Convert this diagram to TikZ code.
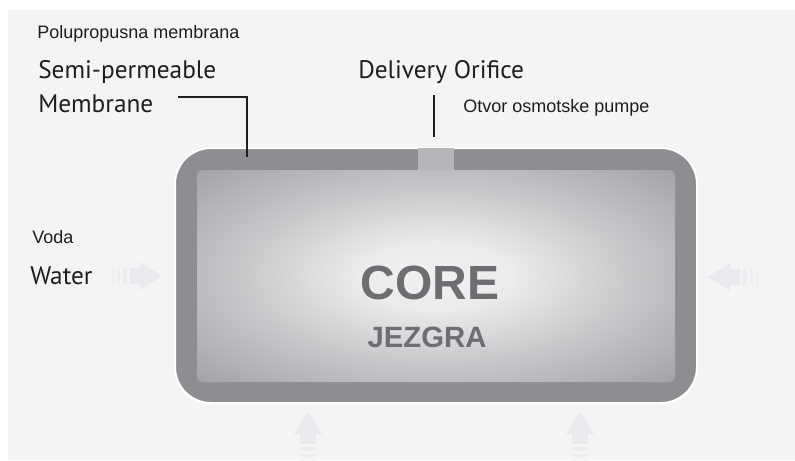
\documentclass[tikz,border=0pt]{standalone}
\usepackage{fontspec}
\setmainfont{Liberation Sans}
\newfontfamily\calloutfont{PT Sans}
\usetikzlibrary{positioning, calc}
\definecolor{paper}{HTML}{F4F4F4}
\definecolor{shell}{HTML}{8D8E92}
\definecolor{orifice}{HTML}{B5B6BA}
\definecolor{corelight}{HTML}{F1F1F1}
\definecolor{coremid}{HTML}{C9C9CC}
\definecolor{coredark}{HTML}{A6A7AB}
\definecolor{coreink}{HTML}{6D6E72}
\definecolor{ink}{HTML}{1E1E1E}
\definecolor{flow}{HTML}{E8EAEE}
\pgfdeclareradialshading{coreglow}{\pgfpoint{0bp}{0bp}}{%
  color(0bp)=(corelight); color(8bp)=(corelight!85!coremid);
  color(20bp)=(coremid); color(34bp)=(coredark); color(50bp)=(coredark)}
\tikzset{
  smalllabel/.style={anchor=base west, inner sep=0pt, text=ink,
    font=\fontsize{13.5}{16}\selectfont},
  biglabel/.style={anchor=base west, inner sep=0pt, text=ink,
    font=\calloutfont\fontsize{19}{23}\selectfont},
  leader/.style={ink, line width=1.1pt},
}
% faint inflow arrow, tip at the origin, pointing along +x
\newcommand{\inflow}[2]{%
  \begin{scope}[shift={#1}, rotate=#2]
    \fill[flow] (0,0) -- (-22,-14) -- (-22,14) -- cycle;
    \fill[flow] (-22,-8) rectangle (-32,8);
    \foreach \a/\b/\o in {35/39/0.8, 42/45/0.6, 48/50/0.4}{%
      \fill[flow, opacity=\o] (-\a,-8) rectangle (-\b,8);}
  \end{scope}}

\begin{document}
\begin{tikzpicture}[x=0.75pt, y=-0.75pt]
  \useasboundingbox (0,0) rectangle (795,460);
  \fill[white] (0,0) rectangle (795,460);
  \fill[paper] (8,10) rectangle (795,460);

  % water flowing in from the sides and from below
  \inflow{(162,276)}{0}
  \inflow{(708,277)}{180}
  \inflow{(308,412)}{90}
  \inflow{(580,412)}{90}

  % tablet shell and core
  \filldraw[shell, draw=white, line width=1.5pt, rounded corners=27]
    (175,148) rectangle (697,403);
  \fill[orifice] (418,148) rectangle (454,171);
  \shade[shading=coreglow, rounded corners=4]
    (197,170) rectangle (675,382);

  \node[anchor=base, inner sep=0pt, text=coreink,
        font=\bfseries\fontsize{36}{40}\selectfont] (core) at (430,299) {CORE};
  \node[anchor=base, inner sep=0pt, text=coreink,
        font=\bfseries\fontsize{22}{26}\selectfont] (jezgra) at (427,347) {JEZGRA};

  % labels
  \node[smalllabel] (membranehr) at (37,39) {Polupropusna membrana};
  \node[biglabel] (semi) at (38,79) {Semi-permeable};
  \node[biglabel] (membrane) at (38,113) {Membrane};
  \node[biglabel] (orificeen) at (358,79) {Delivery Orifice};
  \node[smalllabel] (orificehr) at (463,112) {Otvor osmotske pumpe};
  \node[smalllabel] (voda) at (32,243) {Voda};
  \node[biglabel] (water) at (30,284) {Water};

  % leaders
  \coordinate (membranestart) at (178,97);
  \coordinate (membraneend) at (247,157);
  \coordinate (orificetop) at (434,95);
  \coordinate (orificeend) at (434,137);
  \draw[leader] (membranestart) -| (membraneend);
  \draw[leader] (orificetop) -- (orificeend);
\end{tikzpicture}
\end{document}
